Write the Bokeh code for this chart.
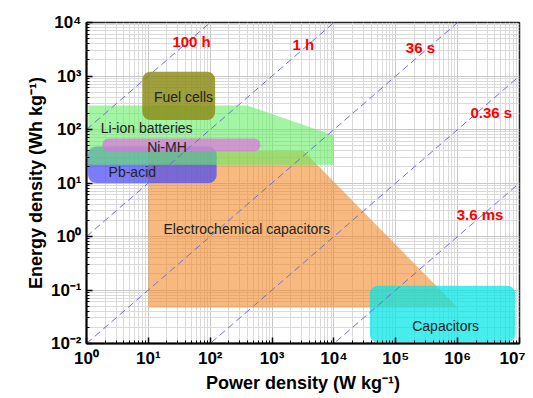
from bokeh.plotting import figure
from bokeh.models import FixedTicker, Range1d
from bokeh.embed import file_html
from bokeh.resources import INLINE
from bokeh.core.properties import value

# ---------------- data ----------------
x_ticks = [1e0, 1e1, 1e2, 1e3, 1e4, 1e5, 1e6, 1e7]
x_labels = ["10⁰", "10¹", "10²", "10³", "10⁴", "10⁵", "10⁶", "10⁷"]
y_ticks = [1e-2, 1e-1, 1e0, 1e1, 1e2, 1e3, 1e4]
y_labels = ["10⁻²", "10⁻¹", "10⁰", "10¹", "10²", "10³", "10⁴"]

# rounded boxes (power W/kg, energy Wh/kg)
box_names = ["Pb-acid", "Ni-MH", "Fuel cells", "Capacitors"]
box_left = [1.06, 1.8, 8.0, 3.8e4]
box_right = [127.0, 650.0, 120.0, 8.5e6]
box_bottom = [10.0, 39.0, 150.0, 0.0105]
box_top = [48.0, 68.0, 1200.0, 0.12]
box_colors = ["#4a4af5", "#e070e0", "#8a8a14", "#00e6e6"]
box_alpha = [0.72, 0.7, 0.82, 0.72]

# Li-ion batteries region
li_power = [1.07, 400.0, 1.0e4, 1.0e4, 1.07]
li_energy = [280.0, 280.0, 77.0, 22.0, 22.0]

# Electrochemical capacitors region
ec_power = [10.0, 3200.0, 1.0e6, 10.0]
ec_energy = [40.0, 40.0, 0.047, 0.047]

# constant discharge-time lines (hours)
time_hours = [100.0, 1.0, 0.01, 1e-4, 1e-6]
time_labels = ["100 h", "1 h", "36 s", "0.36 s", "3.6 ms"]
time_label_p = [50.0, 3200.0, 2.5e5, 3.5e6, 2.3e6]
time_label_e = [4400.0, 3900.0, 3400.0, 210.0, 2.6]

# region labels
reg_labels = ["Fuel cells", "Li-ion batteries", "Ni-MH", "Pb-acid",
              "Electrochemical capacitors", "Capacitors"]
reg_label_p = [37.0, 9.4, 20.0, 5.5, 390.0, 6.4e5]
reg_label_e = [400.0, 105.0, 48.0, 16.0, 1.4, 0.021]

FONT = "Liberation Sans"

p = figure(width=525, height=396, x_axis_type="log", y_axis_type="log",
           x_range=Range1d(1, 1e7), y_range=Range1d(1e-2, 1e4),
           output_backend="svg", toolbar_location=None,
           min_border_left=86, min_border_right=6, min_border_top=22,
           min_border_bottom=53)
p.background_fill_color = "white"
p.border_fill_color = "white"
p.outline_line_color = "#222222"
p.outline_line_width = 1.5

x_minor = [m * 10.0 ** k for k in range(0, 7) for m in range(2, 10)]
y_minor = [m * 10.0 ** k for k in range(-2, 4) for m in range(2, 10)]
p.xaxis.ticker = FixedTicker(ticks=x_ticks, minor_ticks=x_minor)
p.yaxis.ticker = FixedTicker(ticks=y_ticks, minor_ticks=y_minor)
p.xaxis.major_label_overrides = {t: l for t, l in zip(x_ticks, x_labels)}
p.yaxis.major_label_overrides = {t: l for t, l in zip(y_ticks, y_labels)}

for ax in (p.xaxis, p.yaxis):
    ax.major_label_text_font = FONT
    ax.major_label_text_font_style = "bold"
    ax.major_label_text_font_size = "17px"
    ax.major_label_text_color = "black"
    ax.axis_label_text_font = FONT
    ax.axis_label_text_font_style = "bold"
    ax.axis_label_text_font_size = "18px"
    ax.axis_label_text_color = "black"
    ax.axis_line_width = 2
    ax.axis_line_color = "black"
    ax.major_tick_in = 6
    ax.major_tick_out = 0
    ax.minor_tick_in = 3
    ax.minor_tick_out = 0
    ax.major_tick_line_width = 1.5
    ax.minor_tick_line_width = 1
    ax.major_tick_line_color = "black"
    ax.minor_tick_line_color = "black"
    ax.axis_label_standoff = 2
    ax.major_label_standoff = 5

p.xaxis.axis_label = "Power density (W kg⁻¹)"
p.yaxis.axis_label = "Energy density (Wh kg⁻¹)"

for g in (p.xgrid, p.ygrid):
    g.grid_line_color = "#c8c8c8"
    g.grid_line_width = 1
    g.minor_grid_line_color = "#dadada"
    g.minor_grid_line_width = 1

# electrochemical capacitors
p.patch(ec_power, ec_energy, fill_color="#f28a2a", fill_alpha=0.6, line_color=None)

# Pb-acid
i = 0
p.quad(left=box_left[i], right=box_right[i], bottom=box_bottom[i], top=box_top[i],
       fill_color=box_colors[i], fill_alpha=box_alpha[i], line_color=None, border_radius=8)

# Li-ion
p.patch(li_power, li_energy, fill_color="#66ee66", fill_alpha=0.6, line_color=None)

# Ni-MH, Fuel cells, Capacitors
for i in (1, 2, 3):
    p.quad(left=box_left[i], right=box_right[i], bottom=box_bottom[i], top=box_top[i],
           fill_color=box_colors[i], fill_alpha=box_alpha[i], line_color=None,
           border_radius=8)

# constant-time dashed lines E = t * P
p_span = [1.0, 1.0e7]
for t in time_hours:
    p.line(p_span, [t * v for v in p_span], line_color="#7070d8", line_width=1,
           line_dash="7 4")

p.text(x=time_label_p, y=time_label_e, text=time_labels,
       text_font=value(FONT), text_font_style="bold", text_font_size="15px",
       text_color="#ff0000", text_align="center", text_baseline="middle")

p.text(x=reg_label_p, y=reg_label_e, text=reg_labels,
       text_font=value(FONT), text_font_size="14px",
       text_color="#222222", text_align="center", text_baseline="middle")

open("out.html", "w").write(file_html(p, INLINE))
